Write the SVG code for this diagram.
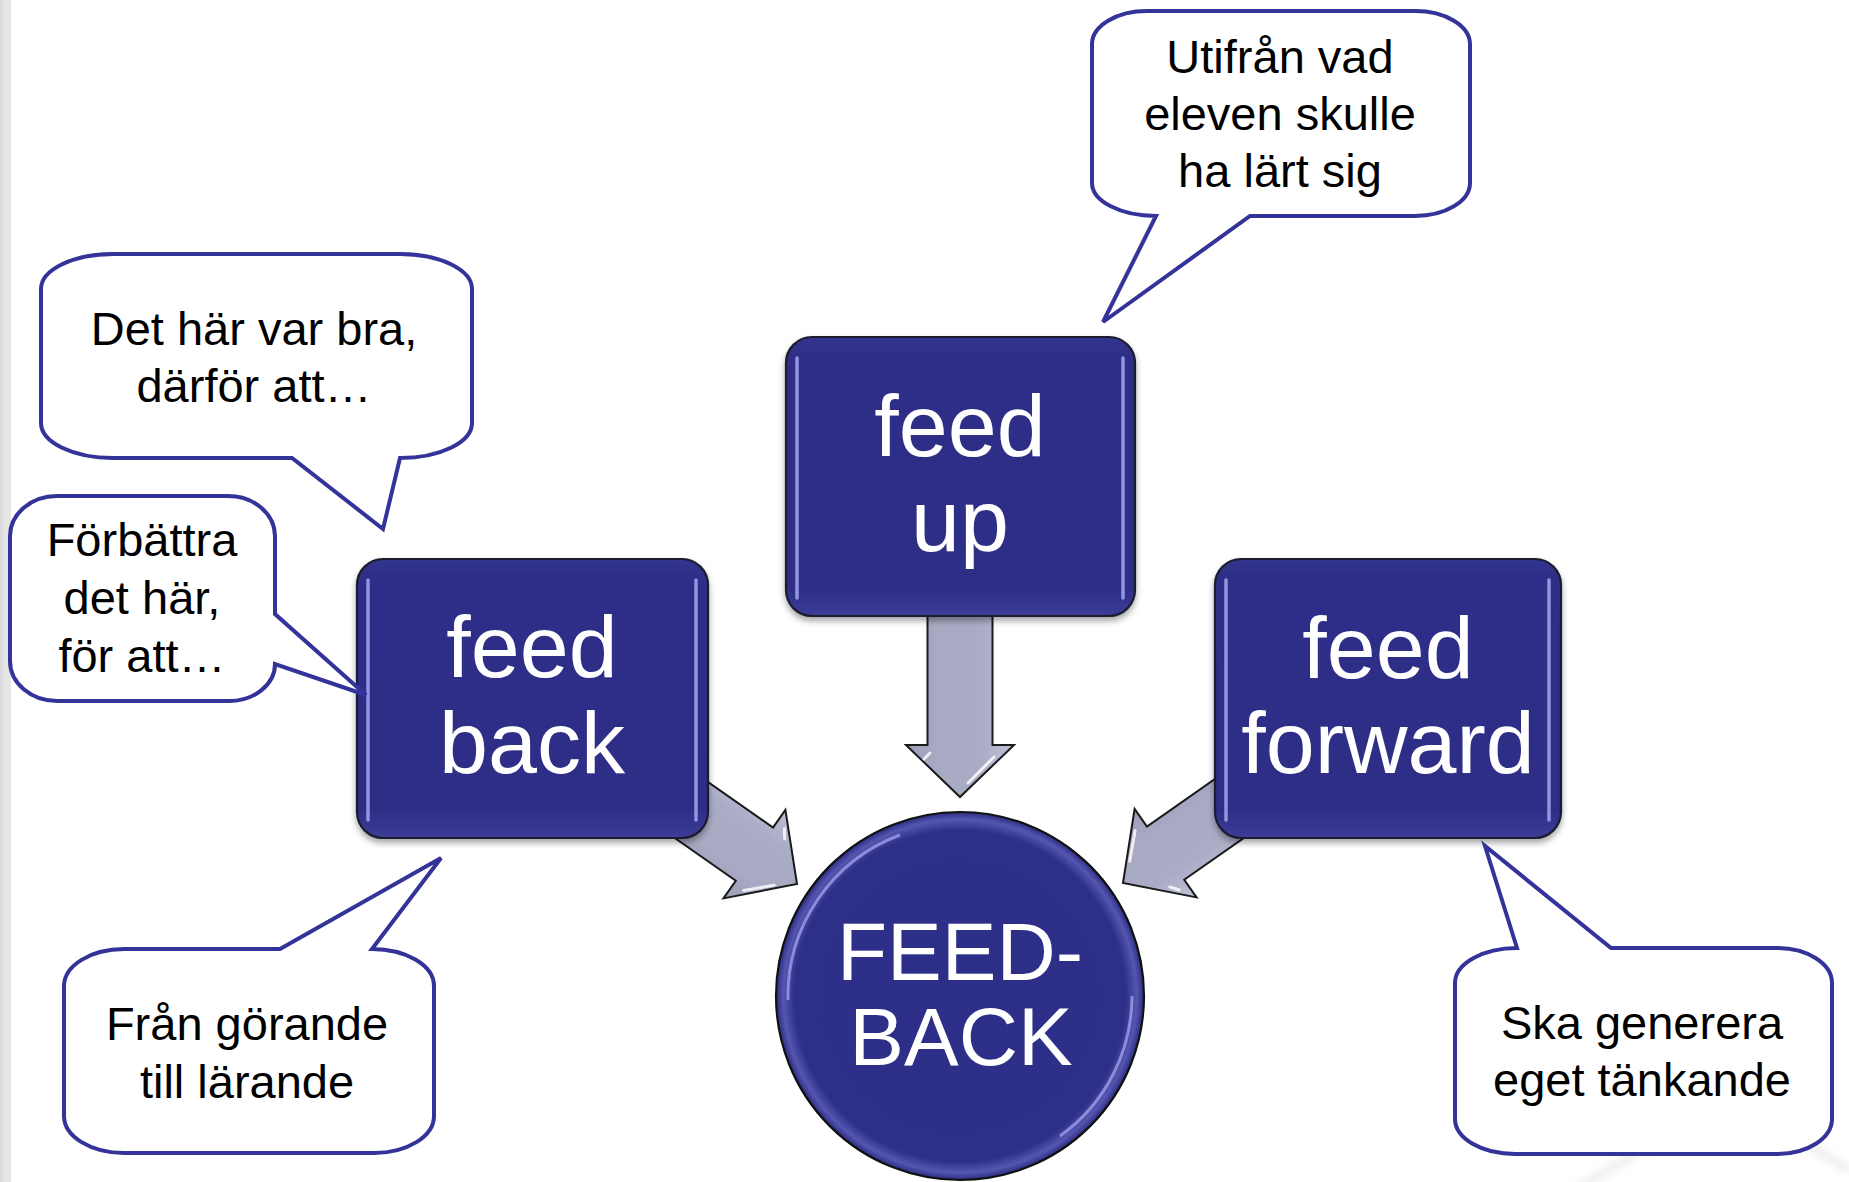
<svg xmlns="http://www.w3.org/2000/svg" width="1849" height="1182" viewBox="0 0 1849 1182">
<defs>
<style>
.bubble{fill:#ffffff;stroke:#333399;stroke-width:4;stroke-linejoin:miter}
.btxt{font-family:"Liberation Sans",Arial,sans-serif;font-size:47px;fill:#000000;text-anchor:middle}
.ntxt{font-family:"Liberation Sans",Arial,sans-serif;font-size:88px;fill:#ffffff;text-anchor:middle}
.ctxt{font-family:"Liberation Sans",Arial,sans-serif;font-size:82px;fill:#ffffff;text-anchor:middle}
.box{fill:url(#boxGrad);stroke:#1c1c2e;stroke-width:2.2}
.hl{stroke:#a4a6f0;stroke-width:3.5;stroke-linecap:round;fill:none;opacity:0.85}
.arrow{fill:url(#arrGrad);stroke:#1a1a1a;stroke-width:2;stroke-linejoin:miter}
.ahl{stroke:#ffffff;stroke-width:3;stroke-linecap:round;fill:none;opacity:0.8}
</style>
<linearGradient id="boxGrad" x1="0" y1="0" x2="0" y2="1">
<stop offset="0" stop-color="#34358f"/>
<stop offset="0.06" stop-color="#2e2f88"/>
<stop offset="0.9" stop-color="#2d2e87"/>
<stop offset="1" stop-color="#3c3d98"/>
</linearGradient>
<linearGradient id="arrGrad" x1="0" y1="0" x2="0" y2="1">
<stop offset="0" stop-color="#bfc1d6"/>
<stop offset="0.3" stop-color="#aaacc6"/>
<stop offset="0.7" stop-color="#a8aac4"/>
<stop offset="1" stop-color="#9c9eba"/>
</linearGradient>
<radialGradient id="circGrad" cx="0.5" cy="0.5" r="0.5">
<stop offset="0" stop-color="#2d2e87"/>
<stop offset="0.9" stop-color="#2e2f89"/>
<stop offset="0.96" stop-color="#5556b0"/>
<stop offset="1" stop-color="#2a2b80"/>
</radialGradient>
<filter id="shadow" x="-10%" y="-10%" width="120%" height="125%">
<feDropShadow dx="0" dy="4" stdDeviation="3" flood-color="#000000" flood-opacity="0.35"/>
</filter>
<filter id="soft" x="-20%" y="-20%" width="140%" height="140%">
<feGaussianBlur stdDeviation="4"/>
</filter>
</defs>

<rect x="0" y="0" width="1849" height="1182" fill="#ffffff"/>
<rect x="0" y="0" width="11" height="1182" fill="#e6e6e6"/>
<rect x="0" y="0" width="3" height="1182" fill="#dcdcdc"/>
<g opacity="0.5" filter="url(#soft)">
<line x1="1575" y1="1190" x2="1645" y2="1148" stroke="#cfcfcf" stroke-width="6"/>
<line x1="1800" y1="1140" x2="1849" y2="1170" stroke="#cfcfcf" stroke-width="6"/>
</g>

<g id="connectors">
<g transform="translate(960,797) rotate(90)">
<polygon class="arrow" points="-200,-32.5 -52,-32.5 -52,-54 0,0 -52,54 -52,32.5 -200,32.5"/>
<polyline class="ahl" points="-40,-34 -14,-8"/>
<polyline class="ahl" points="-44,30 -38,36"/>
</g>
<g transform="translate(797,884) rotate(35)">
<polygon class="arrow" points="-180,-32.5 -52,-32.5 -52,-54 0,0 -52,54 -52,32.5 -180,32.5"/>
<polyline class="ahl" points="-42,-38 -36,-30"/>
<polyline class="ahl" points="-40,36 -18,14"/>
</g>
<g transform="translate(1123,883) rotate(145)">
<polygon class="arrow" points="-180,-32.5 -52,-32.5 -52,-54 0,0 -52,54 -52,32.5 -180,32.5"/>
<polyline class="ahl" points="-42,-38 -36,-30"/>
<polyline class="ahl" points="-40,36 -18,14"/>
</g>
</g>

<g id="node-feedup">
<rect class="box" x="786" y="337" width="349" height="279" rx="26" ry="26" filter="url(#shadow)"/>
<line class="hl" x1="797" y1="358" x2="797" y2="598"/>
<line class="hl" x1="1123" y1="358" x2="1123" y2="598"/>
<text class="ntxt" x="960" y="456">feed</text>
<text class="ntxt" x="960" y="551">up</text>
</g>

<g id="node-feedback">
<rect class="box" x="357" y="559" width="351" height="279" rx="26" ry="26" filter="url(#shadow)"/>
<line class="hl" x1="368" y1="580" x2="368" y2="820"/>
<line class="hl" x1="696" y1="580" x2="696" y2="820"/>
<text class="ntxt" x="532" y="677">feed</text>
<text class="ntxt" x="532" y="773">back</text>
</g>

<g id="node-feedforward">
<rect class="box" x="1215" y="559" width="346" height="279" rx="26" ry="26" filter="url(#shadow)"/>
<line class="hl" x1="1226" y1="580" x2="1226" y2="820"/>
<line class="hl" x1="1549" y1="580" x2="1549" y2="820"/>
<text class="ntxt" x="1388" y="678">feed</text>
<text class="ntxt" x="1388" y="773">forward</text>
</g>

<g id="node-center">
<circle cx="960" cy="996" r="184" fill="url(#circGrad)" stroke="#111111" stroke-width="2.2"/>
<path d="M 788 1000 A 172 172 0 0 1 900 835" fill="none" stroke="#a8aaf2" stroke-width="3" opacity="0.7"/>
<path d="M 1132 996 A 172 172 0 0 1 1060 1136" fill="none" stroke="#a8aaf2" stroke-width="3" opacity="0.7"/>
<text class="ctxt" x="960" y="980">FEED-</text>
<text class="ctxt" x="961" y="1065">BACK</text>
</g>

<g id="callout-bra">
<path class="bubble" d="M 113,254 H 400 A 72 35 0 0 1 472,289 V 423 A 72 35 0 0 1 400,458 L 383,529 L 292,458 H 113 A 72 35 0 0 1 41,423 V 289 A 72 35 0 0 1 113,254 Z"/>
<text class="btxt" x="254" y="345">Det här var bra,</text>
<text class="btxt" x="254" y="402">därför att…</text>
</g>

<g id="callout-forbattra">
<path class="bubble" d="M 57,496 H 228 A 47 40 0 0 1 275,536 V 614 L 366,695 L 275,664 A 46 37 0 0 1 229,701 H 57 A 47 40 0 0 1 10,661 V 536 A 47 40 0 0 1 57,496 Z"/>
<text class="btxt" x="142" y="556">Förbättra</text>
<text class="btxt" x="142" y="614">det här,</text>
<text class="btxt" x="142" y="672">för att…</text>
</g>

<g id="callout-fran">
<path class="bubble" d="M 124,949 H 280 L 441,858 L 372,949 A 62 37 0 0 1 434,986 V 1116 A 60 37 0 0 1 374,1153 H 124 A 60 37 0 0 1 64,1116 V 986 A 60 37 0 0 1 124,949 Z"/>
<text class="btxt" x="247" y="1040">Från görande</text>
<text class="btxt" x="247" y="1098">till lärande</text>
</g>

<g id="callout-utifran">
<path class="bubble" d="M 1147,11 H 1415 A 55 33 0 0 1 1470,44 V 183 A 55 33 0 0 1 1415,216 H 1250 L 1103,322 L 1156,216 A 64 33 0 0 1 1092,183 V 44 A 55 33 0 0 1 1147,11 Z"/>
<text class="btxt" x="1280" y="73">Utifrån vad</text>
<text class="btxt" x="1280" y="130">eleven skulle</text>
<text class="btxt" x="1280" y="187">ha lärt sig</text>
</g>

<g id="callout-ska">
<path class="bubble" d="M 1517,948 L 1485,846 L 1611,948 H 1777 A 55 35 0 0 1 1832,983 V 1119 A 55 35 0 0 1 1777,1154 H 1515 A 60 35 0 0 1 1455,1119 V 983 A 62 35 0 0 1 1517,948 Z"/>
<text class="btxt" x="1642" y="1039">Ska generera</text>
<text class="btxt" x="1642" y="1096">eget tänkande</text>
</g>
</svg>
